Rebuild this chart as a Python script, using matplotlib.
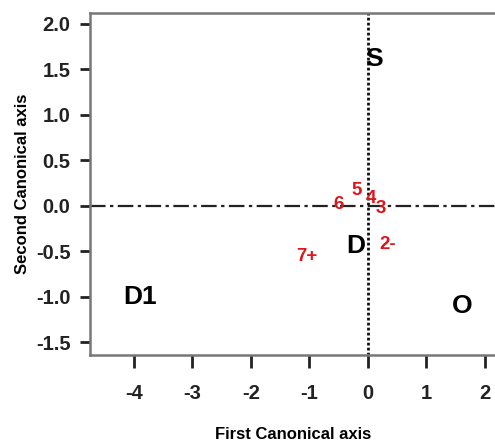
import matplotlib
matplotlib.use("Agg")
import matplotlib.pyplot as plt

plt.rcParams['font.family'] = ['Liberation Sans', 'DejaVu Sans']

# Group centroids (black)
group_labels = ["S", "D", "D1", "O"]
group_x = [0.10, -0.20, -3.90, 1.61]
group_y = [1.61, -0.44, -1.00, -1.10]

# Class centroids (red)
class_labels = ["5", "4", "3", "6", "2-", "7+"]
class_x = [-0.19, 0.05, 0.22, -0.50, 0.34, -1.05]
class_y = [0.17, 0.08, -0.03, 0.02, -0.43, -0.56]

xticks = [-4, -3, -2, -1, 0, 1, 2]
yticks = [-1.5, -1.0, -0.5, 0.0, 0.5, 1.0, 1.5, 2.0]

fig = plt.figure(figsize=(4.95, 4.41), dpi=100)
ax = fig.add_axes([90/495, (441-355)/441, 1.003 - 90/495, (355-13)/441])
ax.set_xlim(-4.75, 2.2)
ax.set_ylim(-1.64, 2.12)

ax.axhline(0, color='#222222', lw=1.6, linestyle=(0, (7, 2, 1.5, 2)), zorder=1)
ax.axvline(0, color='#111111', lw=2.0, linestyle=(0, (1, 0.8)), zorder=1)

for lab, x, y in zip(group_labels, group_x, group_y):
    ax.text(x, y, lab, color='black', fontsize=19, fontweight='bold',
            ha='center', va='center', zorder=3)
for lab, x, y in zip(class_labels, class_x, class_y):
    ax.text(x, y, lab, color='#e0141b', fontsize=13.5, fontweight='bold',
            ha='center', va='center', zorder=3)

ax.set_xticks(xticks)
ax.set_xticklabels([f"{t:g}" for t in xticks])
ax.set_yticks(yticks)
ax.set_yticklabels([f"{t:.1f}" for t in yticks])
ax.tick_params(axis='x', direction='out', length=9, width=2, pad=12,
               labelsize=14.5, colors='#222222')
ax.tick_params(axis='y', direction='out', length=7, width=2, pad=7,
               labelsize=14.5, colors='#222222')
for l in ax.get_xticklabels() + ax.get_yticklabels():
    l.set_fontweight('bold')

for s in ax.spines.values():
    s.set_color('#777777')
    s.set_linewidth(1.8)

ax.set_xlabel("First Canonical axis", fontsize=12, fontweight='bold', labelpad=17)
ax.set_ylabel("Second Canonical axis", fontsize=12, fontweight='bold', labelpad=4)

fig.savefig("out.png", dpi=100)
